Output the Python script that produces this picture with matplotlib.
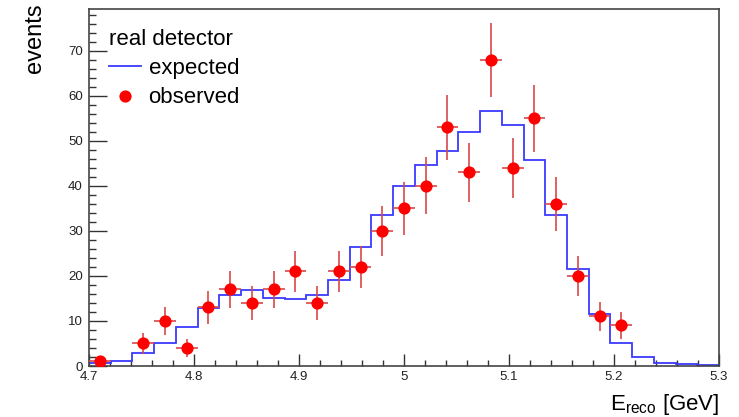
import numpy as np
import matplotlib
matplotlib.use("Agg")
import matplotlib.pyplot as plt
from matplotlib.lines import Line2D
from matplotlib.ticker import MultipleLocator

plt.rcParams['font.family'] = ['Liberation Sans', 'DejaVu Sans']
plt.rcParams['mathtext.fontset'] = 'custom'
plt.rcParams['mathtext.rm'] = 'Liberation Sans'
plt.rcParams['mathtext.it'] = 'Liberation Sans'

# ---- data ----
x_min, x_max, n_bins = 4.7, 5.3, 29
expected = [0.6, 1.2, 2.8, 5.0, 8.7, 12.9, 15.7, 16.8, 15.1, 14.8,
            15.7, 19.1, 26.4, 33.6, 40.0, 44.7, 47.7, 52.0, 56.7, 53.5,
            45.7, 33.6, 21.5, 11.6, 5.0, 2.0, 0.7, 0.4, 0.2]
observed = [1, 0, 5, 10, 4, 13, 17, 14, 17, 21,
            14, 21, 22, 30, 35, 40, 53, 43, 68, 44,
            55, 36, 20, 11, 9, 0, 0, 0, 0]
legend_title = "real detector"
label_expected = "expected"
label_observed = "observed"
xlabel = r"E$_{\mathrm{reco}}$ [GeV]"
ylabel = "events"

edges = np.linspace(x_min, x_max, n_bins + 1)
centers = 0.5 * (edges[:-1] + edges[1:])
width = edges[1] - edges[0]
obs = np.array(observed, dtype=float)
mask = obs > 0

fig = plt.figure(figsize=(7.39, 4.17), dpi=100)
ax = fig.add_axes([0.1204, 0.1223, 0.8526, 0.8561])

ax.stairs(expected, edges, color='#3a3aff', lw=1.3, zorder=2)
ax.errorbar(centers[mask], obs[mask], xerr=width / 2, yerr=np.sqrt(obs[mask]),
            fmt='none', ecolor='#d94848', elinewidth=1.2, capsize=0, zorder=3)
ax.plot(centers[mask], obs[mask], 'o', color='#ff0000', ms=8.8, mew=0, zorder=4)

ax.set_xlim(x_min, x_max)
ax.set_ylim(0, 79.3)

ax.xaxis.set_major_locator(MultipleLocator(0.1))
ax.xaxis.set_minor_locator(MultipleLocator(0.02))
ax.yaxis.set_major_locator(MultipleLocator(10))
ax.yaxis.set_minor_locator(MultipleLocator(2))
ax.xaxis.set_major_formatter(matplotlib.ticker.FuncFormatter(lambda v, p: f"{v:g}"))

ax.tick_params(axis='both', which='both', direction='in', top=False, right=False,
               color='#333333', width=1.0, labelsize=9.5, labelcolor='#222222')
ax.tick_params(axis='y', which='major', length=13, pad=4.5)
ax.tick_params(axis='y', which='minor', length=5)
ax.tick_params(axis='x', which='major', length=8.5, pad=3.5)
ax.tick_params(axis='x', which='minor', length=4.3)

for s in ax.spines.values():
    s.set_color('#444444')
    s.set_linewidth(1.2)

ax.set_ylabel(ylabel, fontsize=17, loc='top')
ax.yaxis.set_label_coords(-0.069, 1.015)
ax.set_xlabel(xlabel, fontsize=16, loc='right')
ax.xaxis.set_label_coords(1.0, -0.072)

handles = [Line2D([], [], color='#3a3aff', lw=1.3),
           Line2D([], [], marker='o', ls='none', color='#ff0000', ms=8.8, mew=0)]
leg = ax.legend(handles, [label_expected, label_observed], title=legend_title,
                loc='upper left', bbox_to_anchor=(0.031, 0.945), frameon=False,
                fontsize=16, title_fontsize=16, alignment='left',
                handlelength=1.45, handletextpad=0.35, labelspacing=0.38,
                borderaxespad=0.0, borderpad=0.0)
leg._legend_box.sep = 6

fig.savefig("out.png", dpi=100)
